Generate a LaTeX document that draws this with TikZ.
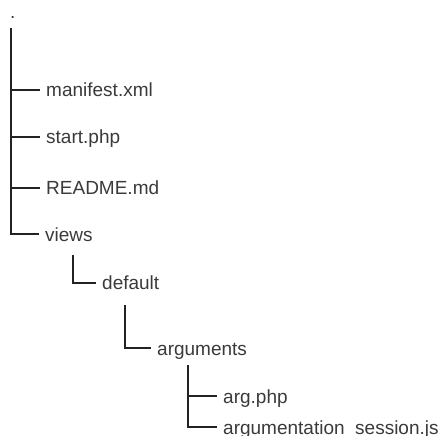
\documentclass[tikz,border=0pt]{standalone}
\usepackage{fontspec}
\setmainfont{Liberation Sans}
\definecolor{txt}{HTML}{3A3A3A}
\definecolor{ln}{HTML}{222222}
\begin{document}
\begin{tikzpicture}[
  lbl/.style={anchor=west,inner xsep=6pt,inner ysep=0pt,text height=14pt,text depth=0pt,
    font=\fontsize{19}{22}\selectfont,text=txt},
  conn/.style={draw=ln,line width=1.2pt}]
\useasboundingbox (0pt,0pt) rectangle (440pt,-436pt);
\node[anchor=base west,inner sep=0pt,font=\fontsize{19}{22}\selectfont,text=txt] (dot) at (10pt,-19pt) {.};
\coordinate (t0) at (11pt,-28pt);
\node[lbl] (manifest) at (40pt,-90pt) {manifest.xml};
\node[lbl] (start) at (40pt,-137pt) {start.php};
\node[lbl] (readme) at (40pt,-188pt) {README.md};
\node[lbl] (views) at (39pt,-234pt) {views};
\coordinate (d0) at (73pt,-255pt);
\node[lbl] (default) at (96pt,-283pt) {default};
\coordinate (a0) at (125pt,-305pt);
\node[lbl] (arguments) at (151pt,-348pt) {arguments};
\coordinate (f0) at (188pt,-365pt);
\node[lbl] (argphp) at (217pt,-396pt) {arg.php};
\node[lbl] (session) at (217pt,-427pt) {argumentation\_session.js};
\draw[conn] (t0) |- (views);
\draw[conn] (t0 |- manifest) -- (manifest);
\draw[conn] (t0 |- start) -- (start);
\draw[conn] (t0 |- readme) -- (readme);
\draw[conn] (d0) |- (default);
\draw[conn] (a0) |- (arguments);
\draw[conn] (f0) |- (session);
\draw[conn] (f0 |- argphp) -- (argphp);
\end{tikzpicture}
\end{document}
